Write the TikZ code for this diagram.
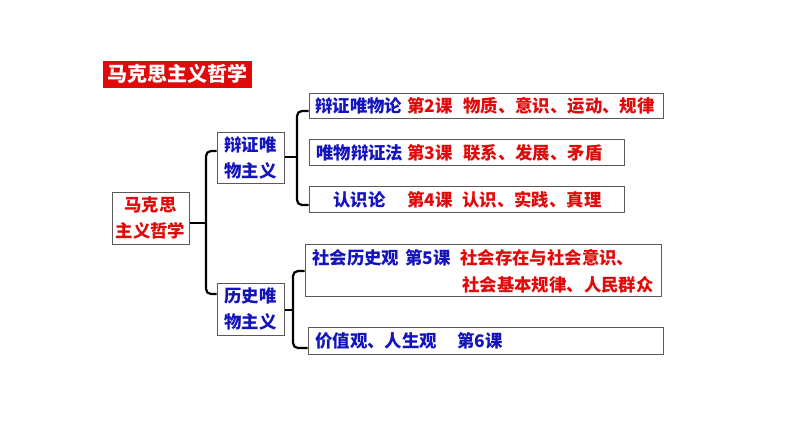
\documentclass[tikz,border=0pt]{standalone}
\usepackage{fontspec}
\newfontfamily\cjk{Noto Sans CJK SC}
\definecolor{zxRed}{RGB}{225,10,10}
\definecolor{zxBlue}{RGB}{20,20,190}
\definecolor{zxLine}{RGB}{90,90,90}
\begin{document}
\begin{tikzpicture}[x=1pt, y=-1pt, font=\cjk\bfseries\fontsize{17.4}{26}\selectfont,
  box/.style={draw=zxLine, line width=1pt, inner sep=0pt, align=center},
  txt/.style={anchor=west, inner sep=0pt},
  brace/.style={draw=black, line width=2.2pt, rounded corners=5pt}]
% Canvas
\useasboundingbox (0,0) rectangle (794,447);
% Title
\node[fill=zxRed, text=white, inner sep=0pt, minimum width=149pt, minimum height=27pt,
  font=\cjk\bfseries\fontsize{20}{24}\selectfont] (title) at (177.5,74) {马克思主义哲学};
% Brace junctions
\coordinate (jRoot) at (206,223);
\coordinate (jDz) at (297,157);
\coordinate (jLs) at (293,310);
% Boxes
\node[box, text=zxRed, minimum width=77pt, minimum height=52pt] (root) at (150.5,218) {马克思\\主义哲学};
\node[box, text=zxBlue, minimum width=67pt, minimum height=51pt] (dz) at (250.5,157.5) {辩证唯\\物主义};
\node[box, text=zxBlue, minimum width=67pt, minimum height=52pt] (ls) at (250.5,309) {历史唯\\物主义};
\node[box, minimum width=354pt, minimum height=25pt] (lesA) at (486,105.5) {};
\node[box, minimum width=315pt, minimum height=26pt] (lesB) at (466.5,152) {};
\node[box, minimum width=315pt, minimum height=26pt] (lesC) at (466.5,199) {};
\node[box, minimum width=356pt, minimum height=52pt] (lesD) at (483,270) {};
\node[box, minimum width=355pt, minimum height=27pt] (lesE) at (485.5,340.5) {};
% Braces
\begin{scope}[brace]
  \draw (root.east |- jRoot) -- (jRoot);
  \draw (dz.west |- 0,151) -| (jRoot |- 0,294) -- (ls.west |- 0,294);
  \draw (dz.east |- jDz) -- (jDz);
  \draw (lesA.west |- 0,111) -| (jDz |- 0,205) -- (lesC.west |- 0,205);
  \draw (ls.east |- jLs) -- (jLs);
  \draw (lesD.west |- 0,271) -| (jLs |- 0,348) -- (lesE.west |- 0,348);
\end{scope}
% Texts in the lesson boxes
\node[txt, text=zxBlue] (tA1) at (315,106) {辩证唯物论};
\node[txt, text=zxRed] (tA2) at (407,106) {第2课};
\node[txt, text=zxRed] (tA3) at (463,106) {物质、意识、运动、规律};
\node[txt, text=zxBlue] (tB1) at (316,152.5) {唯物辩证法};
\node[txt, text=zxRed] (tB2) at (407,152.5) {第3课};
\node[txt, text=zxRed] (tB3) at (463,152.5) {联系、发展、矛盾};
\node[txt, text=zxBlue] (tC1) at (333,199.5) {认识论};
\node[txt, text=zxRed] (tC2) at (407,199.5) {第4课};
\node[txt, text=zxRed] (tC3) at (462,199.5) {认识、实践、真理};
\node[txt, text=zxBlue] (tD1) at (312,258) {社会历史观};
\node[txt, text=zxBlue] (tD2) at (405,258) {第5课};
\node[txt, text=zxRed] (tD3) at (460,258) {社会存在与社会意识、};
\node[txt, text=zxRed] (tD4) at (462,285) {社会基本规律、人民群众};
\node[txt, text=zxBlue] (tE1) at (315,341) {价值观、人生观};
\node[txt, text=zxBlue] (tE2) at (457,341) {第6课};
\end{tikzpicture}
\end{document}
